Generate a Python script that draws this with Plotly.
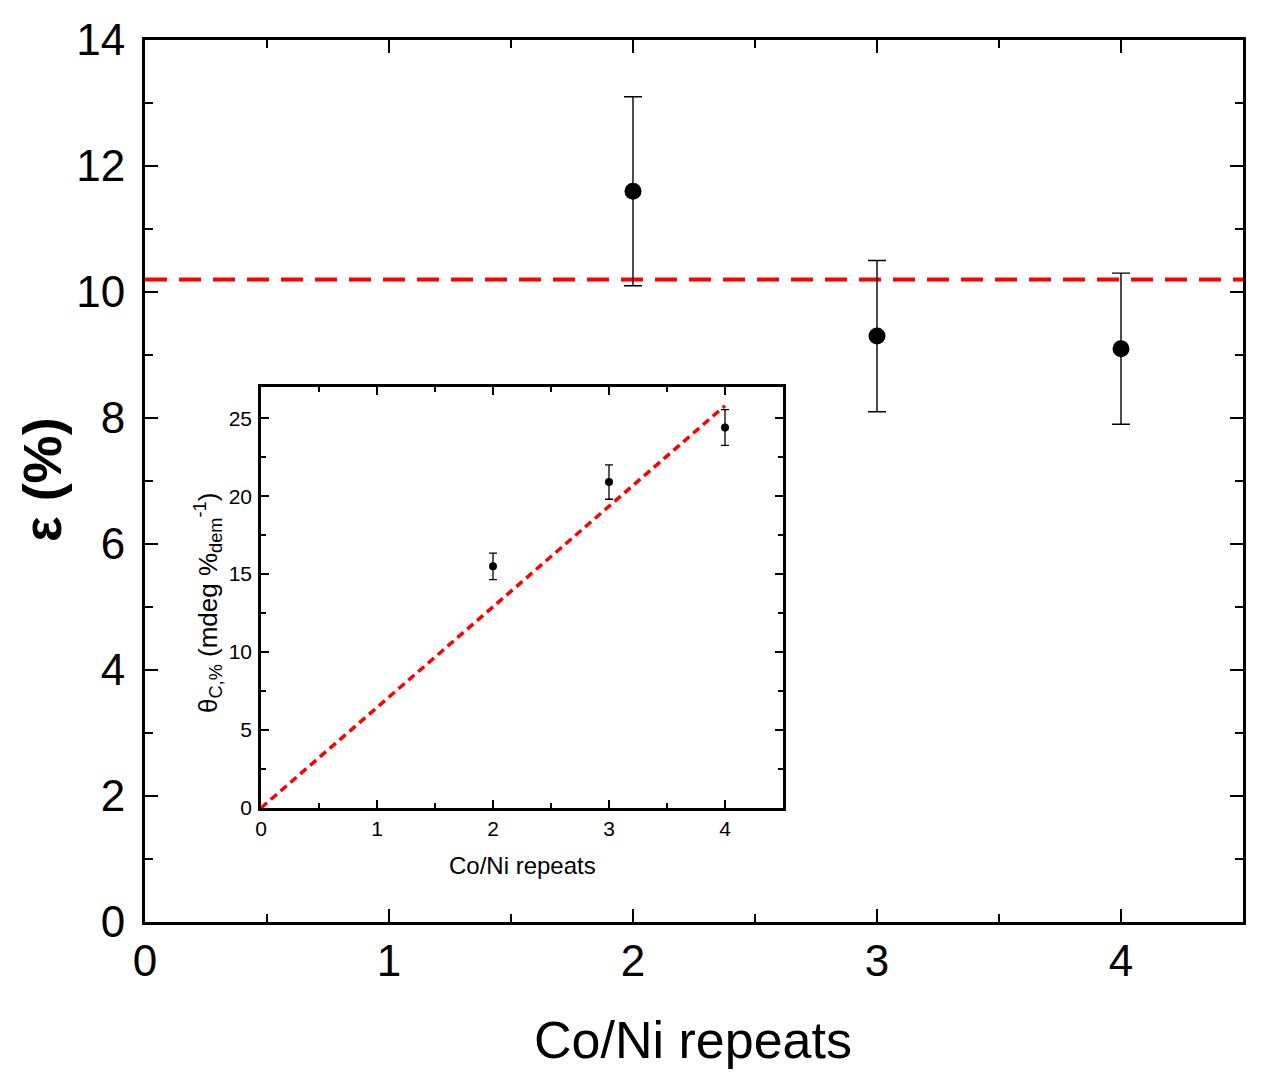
import plotly.graph_objects as go

# ---- data ----
repeats = [2, 3, 4]
epsilon = [11.6, 9.3, 9.1]
epsilon_err = [1.5, 1.2, 1.2]
eps_mean_x = [0, 4.5]
eps_mean_y = [10.2, 10.2]

theta = [15.5, 20.9, 24.4]
theta_err = [0.85, 1.1, 1.15]
theta_fit_x = [0, 4]
theta_fit_y = [0, 25.8]

FONT = "Liberation Sans, Arial, sans-serif"
W, H = 1269, 1080

fig = go.Figure()

fig.add_trace(go.Scatter(x=eps_mean_x, y=eps_mean_y, mode="lines",
                         line=dict(color="#ff0000", width=4, dash="22px,12px"),
                         xaxis="x", yaxis="y", showlegend=False, cliponaxis=False))
fig.add_trace(go.Scatter(x=repeats, y=epsilon, mode="markers",
                         marker=dict(color="black", size=17),
                         error_y=dict(type="data", array=epsilon_err, color="black",
                                      thickness=1.4, width=9),
                         xaxis="x", yaxis="y", showlegend=False))

fig.add_trace(go.Scatter(x=theta_fit_x, y=theta_fit_y, mode="lines",
                         line=dict(color="#ff0000", width=3.5, dash="8px,5px"),
                         xaxis="x2", yaxis="y2", showlegend=False))
fig.add_trace(go.Scatter(x=repeats, y=theta, mode="markers",
                         marker=dict(color="black", size=8),
                         error_y=dict(type="data", array=theta_err, color="black",
                                      thickness=1.3, width=4),
                         xaxis="x2", yaxis="y2", showlegend=False))

def px_x(p):
    return p / W

def px_y(p):
    return 1 - p / H

main_common = dict(showline=True, linecolor="black", linewidth=3, mirror="ticks",
                   ticks="inside", ticklen=13, tickwidth=2, tickcolor="black",
                   showgrid=False, zeroline=False, automargin=False,
                   tickfont=dict(family=FONT, size=44, color="black"))
inset_common = dict(showline=True, linecolor="black", linewidth=2.5, mirror="ticks",
                    ticks="inside", ticklen=8, tickwidth=2, tickcolor="black",
                    showgrid=False, zeroline=False, automargin=False,
                    tickfont=dict(family=FONT, size=21, color="black"))

fig.update_layout(
    width=W, height=H,
    margin=dict(l=0, r=0, t=0, b=0),
    paper_bgcolor="white", plot_bgcolor="white",
    xaxis=dict(domain=[px_x(145), px_x(1243)], range=[0, 4.5], dtick=1,
               minor=dict(dtick=0.5, ticks="inside", ticklen=8, tickwidth=2, tickcolor="black"),
               ticklabelstandoff=-2, anchor="y", **main_common),
    yaxis=dict(domain=[px_y(922), px_y(40)], range=[0, 14], dtick=2,
               minor=dict(dtick=1, ticks="inside", ticklen=8, tickwidth=2, tickcolor="black"),
               ticklabelstandoff=8, anchor="x", **main_common),
    xaxis2=dict(domain=[px_x(261), px_x(783)], range=[0, 4.5], dtick=1,
                minor=dict(dtick=0.5, ticks="inside", ticklen=5, tickwidth=2, tickcolor="black"),
                ticklabelstandoff=0, anchor="y2", **inset_common),
    yaxis2=dict(domain=[px_y(808), px_y(387)], range=[0, 27], dtick=5,
                minor=dict(dtick=2.5, ticks="inside", ticklen=5, tickwidth=2, tickcolor="black"),
                ticklabelstandoff=2, anchor="x2", **inset_common),
    annotations=[
        dict(text="Co/Ni repeats", x=px_x(693), y=px_y(1040), xref="paper", yref="paper",
             xanchor="center", yanchor="middle", showarrow=False,
             font=dict(family=FONT, size=52, color="black")),
        dict(text="<b>ε (%)</b>", x=px_x(42), y=px_y(480), xref="paper", yref="paper",
             xanchor="center", yanchor="middle", showarrow=False, textangle=-90,
             font=dict(family=FONT, size=54, color="black")),
        dict(text="Co/Ni repeats", x=px_x(522), y=px_y(865), xref="paper", yref="paper",
             xanchor="center", yanchor="middle", showarrow=False,
             font=dict(family=FONT, size=24, color="black")),
        dict(text="θ<sub>C,%</sub> (mdeg %<sub>dem</sub><sup>-1</sup>)", x=px_x(208), y=px_y(603),
             xref="paper", yref="paper",
             xanchor="center", yanchor="middle", showarrow=False, textangle=-90,
             font=dict(family=FONT, size=26, color="black")),
    ],
)

fig.write_html("out.html")
